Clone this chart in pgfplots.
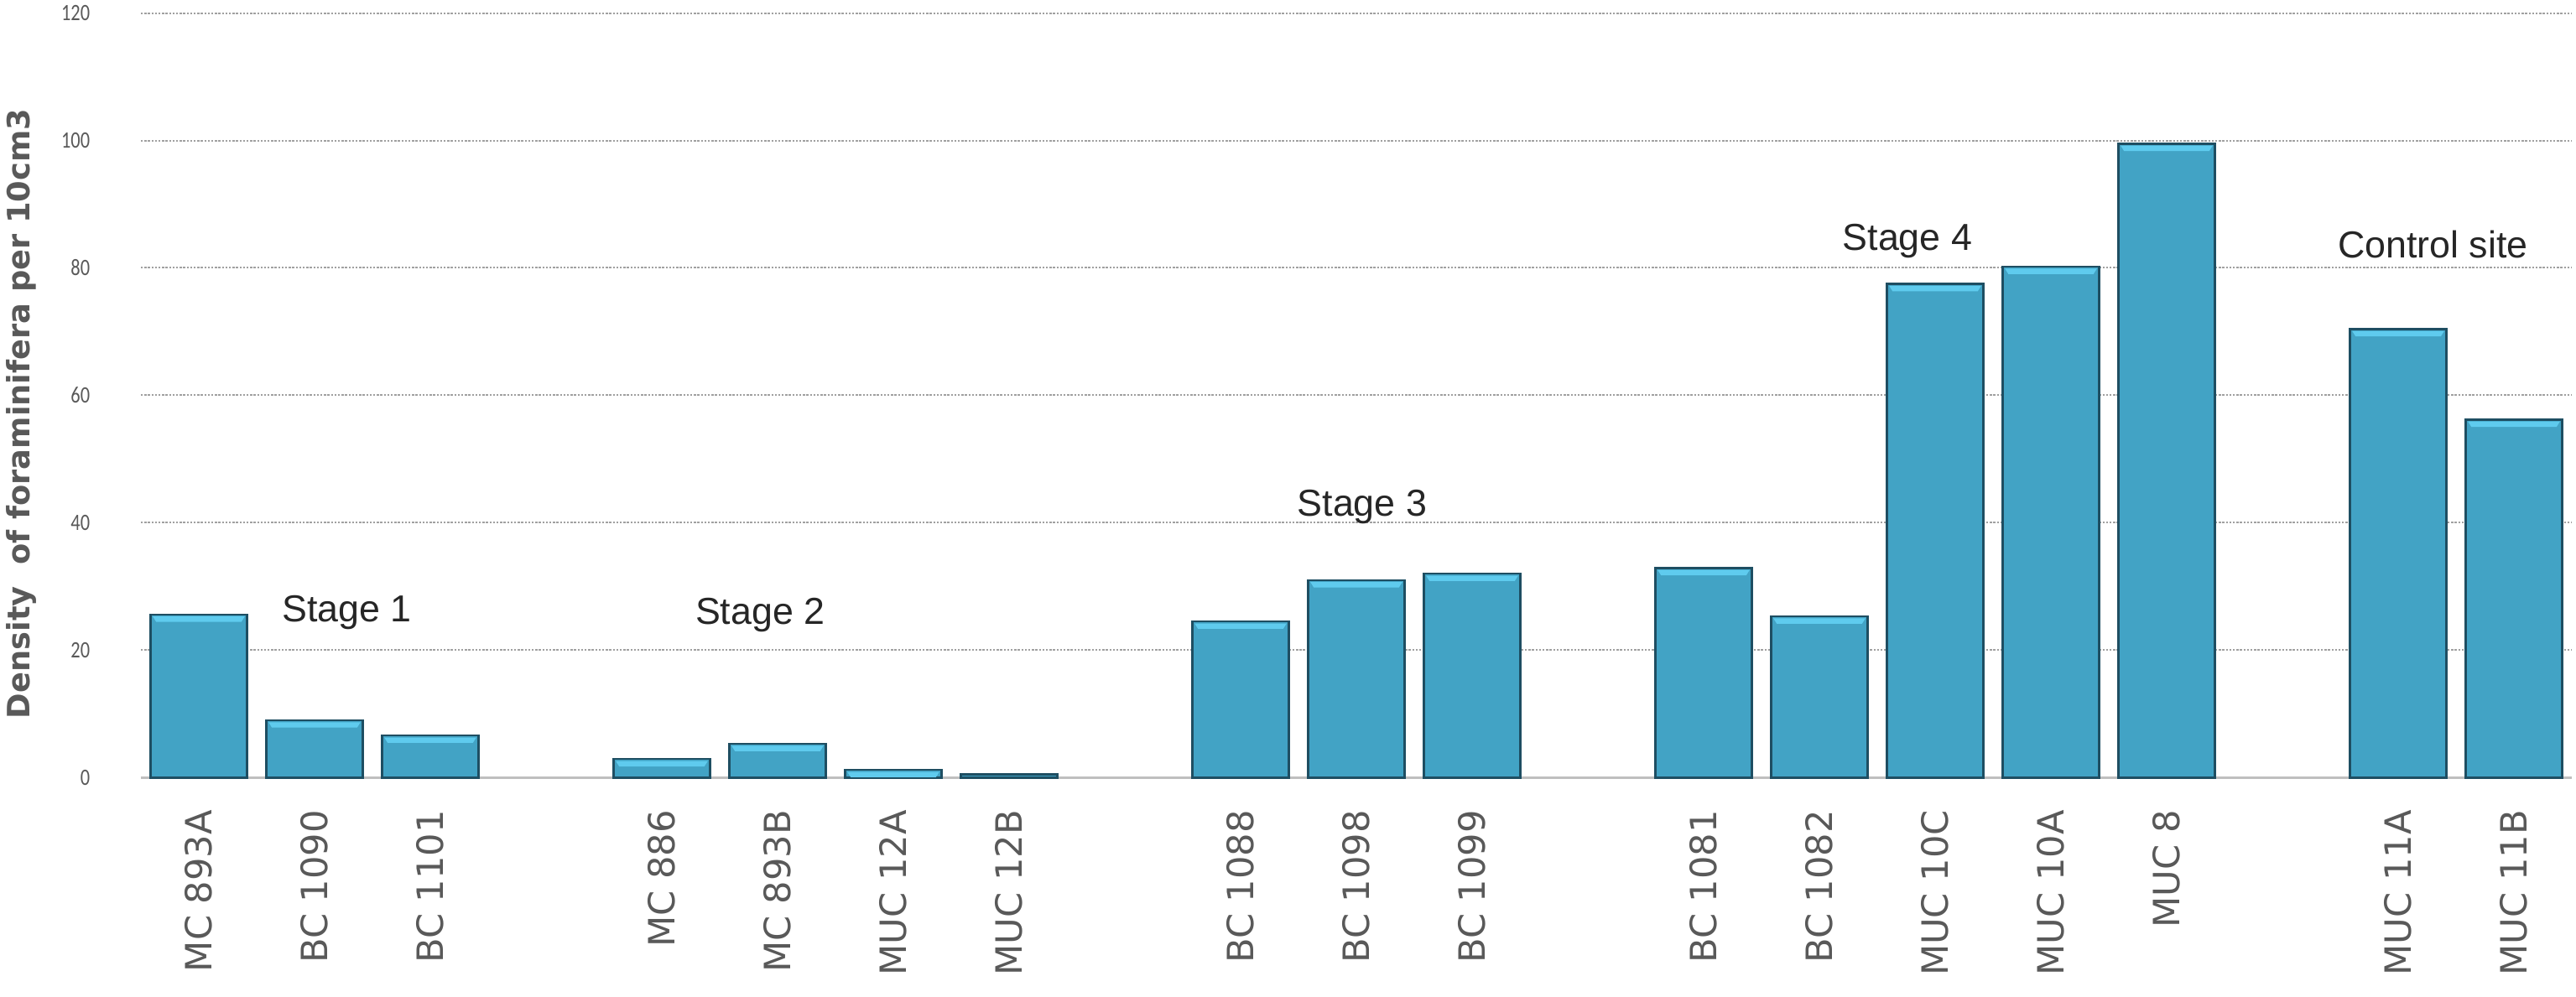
\documentclass[border=0pt]{standalone}
\usepackage{fontspec}
\setmainfont{Liberation Sans}
\newfontfamily\dejavu{DejaVu Sans}
\newfontfamily\carlitoN[FakeStretch=0.8]{Carlito}
\usepackage{pgfplots}
\pgfplotsset{compat=1.18}
\definecolor{barc}{RGB}{66,163,197}
\definecolor{bard}{RGB}{30,78,98}
\definecolor{bevelc}{RGB}{95,203,238}
\definecolor{tickgray}{RGB}{89,89,89}
\definecolor{gridgray}{RGB}{160,160,160}
\definecolor{axisgray}{RGB}{191,191,191}
\definecolor{stagec}{RGB}{38,38,38}
\pgfdeclareplotmark{bevel}{%
  \pgfpathmoveto{\pgfqpoint{-13.7pt}{-0.6pt}}%
  \pgfpathlineto{\pgfqpoint{13.7pt}{-0.6pt}}%
  \pgfpathlineto{\pgfqpoint{12.7pt}{-2.2pt}}%
  \pgfpathlineto{\pgfqpoint{-12.7pt}{-2.2pt}}%
  \pgfpathclose
  \pgfusepathqfill
}
\pgfplotstableread{
x y
0 25.6
1 9.0
2 6.6
4 2.9
5 5.3
6 1.2
7 0.5
9 24.5
10 31.0
11 32.0
13 32.9
14 25.3
15 77.5
16 80.2
17 99.5
19 70.4
20 56.2
}\datatable
\pgfplotstableread{
x y
0 25.6
1 9.0
2 6.6
4 2.9
5 5.3
6 1.2
9 24.5
10 31.0
11 32.0
13 32.9
14 25.3
15 77.5
16 80.2
17 99.5
19 70.4
20 56.2
}\beveltable
\begin{document}
\begin{tikzpicture}
\begin{axis}[
  at={(0,0)}, anchor=south west,
  scale only axis, width=724.75pt, height=228pt,
  xmin=-0.5, xmax=20.5, ymin=0, ymax=120,
  axis line style={draw=none},
  major tick length=0pt,
  xtick={0,1,2,4,5,6,7,9,10,11,13,14,15,16,17,19,20},
  xticklabels={MC 893A,BC 1090,BC 1101,MC 886,MC 893B,MUC 12A,MUC 12B,BC 1088,BC 1098,BC 1099,BC 1081,BC 1082,MUC 10C,MUC 10A,MUC 8,MUC 11A,MUC 11B},
  xticklabel style={rotate=90, anchor=east, inner sep=0pt, font=\dejavu\fontsize{10.8}{12}\selectfont, text=tickgray},
  xticklabel shift=9.5pt,
  ytick={0,20,...,120},
  yticklabel style={inner sep=0pt, anchor=east, font=\carlitoN\fontsize{7}{8}\selectfont, text=tickgray},
  yticklabel shift=15pt,
  /pgf/number format/assume math mode=true,
  ymajorgrids=true,
  major grid style={color=gridgray, line width=0.5pt, dash pattern=on 0.6pt off 0.45pt},
  ylabel={Density\ \ of foraminifera per 10cm3},
  every axis y label/.style={at={(axis description cs:-0.0493,0.476)}, rotate=90, anchor=center, font=\dejavu\bfseries\fontsize{9.2}{10}\selectfont, text=tickgray},
  clip=false,
]
\draw[color=axisgray, line width=0.9pt] (axis cs:-0.5,0) -- (axis cs:20.5,0);
\addplot[ybar, bar width=28.75pt, bar shift=0pt, fill=barc, draw=bard, line width=0.6pt] table[x=x,y=y] {\datatable};
\addplot[only marks, mark=bevel, mark options={fill=bevelc, draw=none}] table[x=x,y=y] {\beveltable};
\node[anchor=base, font=\fontsize{11.2}{13}\selectfont, text=stagec] at (axis cs:1.28,24.45) {Stage 1};
\node[anchor=base, font=\fontsize{11.2}{13}\selectfont, text=stagec] at (axis cs:4.85,24.05) {Stage 2};
\node[anchor=base, font=\fontsize{11.2}{13}\selectfont, text=stagec] at (axis cs:10.05,41.05) {Stage 3};
\node[anchor=base, font=\fontsize{11.2}{13}\selectfont, text=stagec] at (axis cs:14.76,82.7) {Stage 4};
\node[anchor=base, font=\fontsize{11.2}{13}\selectfont, text=stagec] at (axis cs:19.30,81.6) {Control site};
\end{axis}
\pgfresetboundingbox
\path (-42pt,-65.35pt) rectangle (726pt,231.9pt);
\end{tikzpicture}
\end{document}
